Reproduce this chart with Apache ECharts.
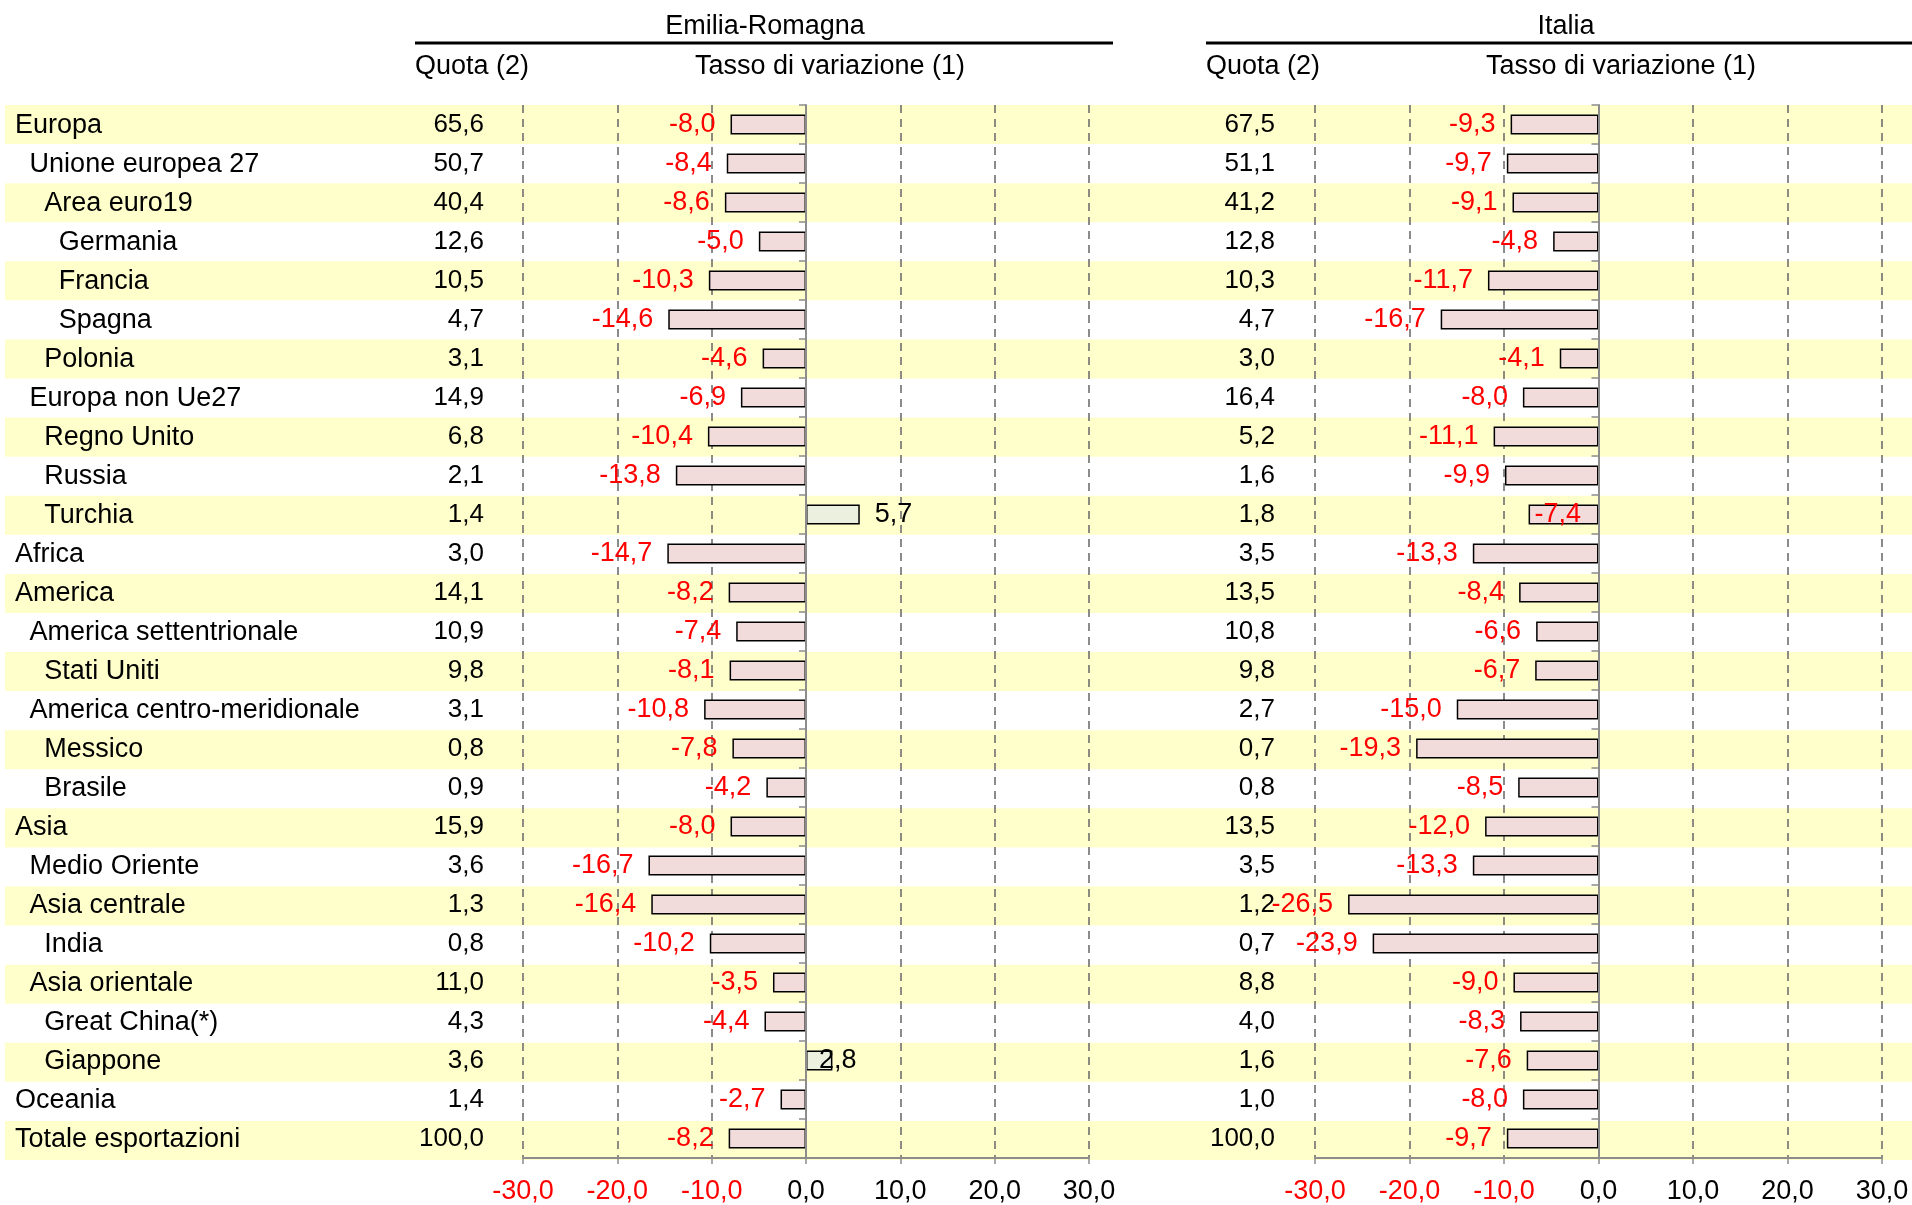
<!DOCTYPE html>
<html><head><meta charset="utf-8">
<script src="https://cdn.jsdelivr.net/npm/echarts@6/dist/echarts.min.js"></script>
<style>html,body{margin:0;padding:0;background:#fff}#c{width:1912px;height:1205px}</style>
</head><body><div id="c"></div>
<script>
const categories = ['Europa','Unione europea 27','Area euro19','Germania','Francia','Spagna','Polonia','Europa non Ue27','Regno Unito','Russia','Turchia','Africa','America','America settentrionale','Stati Uniti','America centro-meridionale','Messico','Brasile','Asia','Medio Oriente','Asia centrale','India','Asia orientale','Great China(*)','Giappone','Oceania','Totale esportazioni'];
const levels = [0,1,2,3,3,3,2,1,2,2,2,0,0,1,2,1,2,2,0,1,1,2,1,2,2,0,0];
const quotaER = [65.6,50.7,40.4,12.6,10.5,4.7,3.1,14.9,6.8,2.1,1.4,3.0,14.1,10.9,9.8,3.1,0.8,0.9,15.9,3.6,1.3,0.8,11.0,4.3,3.6,1.4,100.0];
const tassoER = [-8.0,-8.4,-8.6,-5.0,-10.3,-14.6,-4.6,-6.9,-10.4,-13.8,5.7,-14.7,-8.2,-7.4,-8.1,-10.8,-7.8,-4.2,-8.0,-16.7,-16.4,-10.2,-3.5,-4.4,2.8,-2.7,-8.2];
const quotaIT = [67.5,51.1,41.2,12.8,10.3,4.7,3.0,16.4,5.2,1.6,1.8,3.5,13.5,10.8,9.8,2.7,0.7,0.8,13.5,3.5,1.2,0.7,8.8,4.0,1.6,1.0,100.0];
const tassoIT = [-9.3,-9.7,-9.1,-4.8,-11.7,-16.7,-4.1,-8.0,-11.1,-9.9,-7.4,-13.3,-8.4,-6.6,-6.7,-15.0,-19.3,-8.5,-12.0,-13.3,-26.5,-23.9,-9.0,-8.3,-7.6,-8.0,-9.7];
const insideLabelER = ['Giappone'];
const insideLabelIT = ['Turchia'];
const axisMin = -30, axisMax = 30, axisStep = 10;

const FONT = "'Liberation Sans', Arial, sans-serif";
const FS = 27;
const FSQ = 26;
const fmt = v => v.toFixed(1).replace('.', ',');

const chart = echarts.init(document.getElementById('c'), null, {renderer:'canvas'});

function barData(vals, inside) {
  return vals.map((v, i) => {
    const isIn = inside.indexOf(categories[i]) >= 0;
    let pos = v < 0 ? 'left' : 'right';
    let dist = 15;
    if (isIn) { pos = 'insideLeft'; dist = v < 0 ? 6 : 13; }
    return {
      value: v,
      itemStyle: {color: v < 0 ? '#f2dcdb' : '#ebf1de'},
      label: {position: pos, distance: dist, color: v < 0 ? '#ff0000' : '#000000'}
    };
  });
}

const gridTop = 105, gridH = 1055;
const indentRich = {};
[0,1,2,3].forEach(l => { indentRich['l'+l] = {fontFamily: FONT, fontSize: FS, color:'#000', padding:[2,0,0,l*14.6]}; });

function xAxisCfg(gi) {
  return {
    type:'value', gridIndex: gi, min: axisMin, max: axisMax, interval: axisStep, z: 1,
    axisLine:{show:true, onZero:false, lineStyle:{color:'#8c8c8c', width:2}},
    axisTick:{show:true, length:6, lineStyle:{color:'#8c8c8c', width:1.5}},
    splitLine:{show:true, lineStyle:{color:'#666', width:1.5, type:[8,6]}},
    axisLabel:{margin:20, fontFamily:FONT, fontSize:FS,
      formatter: v => '{' + (v < 0 ? 'n' : 'p') + '|' + fmt(v) + '}',
      rich:{n:{color:'#ff0000', fontFamily:FONT, fontSize:FS}, p:{color:'#000', fontFamily:FONT, fontSize:FS}}}
  };
}
function zeroAxis(gi) {
  return {type:'category', gridIndex: gi, data: categories, inverse:true, position:'left', z: 3,
    axisLine:{show:true, onZero:true, lineStyle:{color:'#8c8c8c', width:2}},
    axisTick:{show:true, length:7, lineStyle:{color:'#8c8c8c', width:1.5}},
    axisLabel:{show:false}, splitLine:{show:false}};
}
function quotaAxis(gi, quota, margin) {
  return {type:'category', gridIndex: gi, data: categories, inverse:true, position:'left', z: 1,
    axisLine:{show:false, onZero:false}, axisTick:{show:false},
    axisLabel:{show:true, margin: margin, align:'right', fontFamily:FONT, fontSize:FSQ, color:'#000',
      formatter:(v, i) => fmt(quota[i])}};
}

const option = {
  animation:false,
  backgroundColor:'#fff',
  textStyle:{fontFamily:FONT},
  grid:[
    {left:5, right:0, top:gridTop, height:gridH},
    {left:523, width:566, top:gridTop, height:gridH},
    {left:1315, width:567, top:gridTop, height:gridH}
  ],
  xAxis:[
    {type:'value', gridIndex:0, min:0, max:1, show:false},
    xAxisCfg(1),
    xAxisCfg(2)
  ],
  yAxis:[
    {type:'category', gridIndex:0, data:categories, inverse:true, z:0,
      axisLine:{show:false}, axisTick:{show:false}, axisLabel:{show:false},
      splitArea:{show:true, areaStyle:{color:['#ffffcc','rgba(255,255,255,0)']}}},
    zeroAxis(1),
    {type:'category', gridIndex:1, data:categories, inverse:true, position:'left', z:1,
      axisLine:{show:false, onZero:false}, axisTick:{show:false},
      axisLabel:{show:true, margin:508, align:'left', rich: indentRich,
        formatter:(v, i) => '{l' + levels[i] + '|' + v + '}'}},
    quotaAxis(1, quotaER, 39),
    zeroAxis(2),
    quotaAxis(2, quotaIT, 40)
  ],
  series:[
    {type:'bar', xAxisIndex:1, yAxisIndex:1, barWidth:20, z:2,
      itemStyle:{borderColor:'#000', borderWidth:1.5},
      label:{show:true, fontFamily:FONT, fontSize:FS, formatter: p => fmt(p.value)},
      data: barData(tassoER, insideLabelER)},
    {type:'bar', xAxisIndex:2, yAxisIndex:4, barWidth:20, z:2,
      itemStyle:{borderColor:'#000', borderWidth:1.5},
      label:{show:true, fontFamily:FONT, fontSize:FS, formatter: p => fmt(p.value)},
      data: barData(tassoIT, insideLabelIT)}
  ],
  graphic:[
    {type:'text', x:765, y:26.5, style:{text:'Emilia-Romagna', font:FS+'px '+FONT, fill:'#000', align:'center', verticalAlign:'middle'}},
    {type:'text', x:1566, y:26.5, style:{text:'Italia', font:FS+'px '+FONT, fill:'#000', align:'center', verticalAlign:'middle'}},
    {type:'line', shape:{x1:415, y1:43, x2:1113, y2:43}, style:{stroke:'#000', lineWidth:3}},
    {type:'line', shape:{x1:1206, y1:43, x2:1912, y2:43}, style:{stroke:'#000', lineWidth:3}},
    {type:'text', x:415, y:66.5, style:{text:'Quota (2)', font:FS+'px '+FONT, fill:'#000', align:'left', verticalAlign:'middle'}},
    {type:'text', x:830, y:66.5, style:{text:'Tasso di variazione (1)', font:FS+'px '+FONT, fill:'#000', align:'center', verticalAlign:'middle'}},
    {type:'text', x:1206, y:66.5, style:{text:'Quota (2)', font:FS+'px '+FONT, fill:'#000', align:'left', verticalAlign:'middle'}},
    {type:'text', x:1621, y:66.5, style:{text:'Tasso di variazione (1)', font:FS+'px '+FONT, fill:'#000', align:'center', verticalAlign:'middle'}}
  ]
};
chart.setOption(option);
</script></body></html>
